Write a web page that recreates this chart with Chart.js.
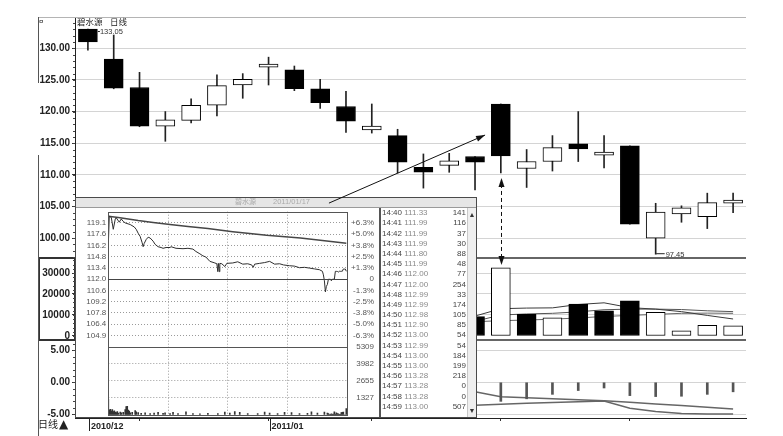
<!DOCTYPE html>
<html>
<head>
<meta charset="utf-8">
<title>碧水源 日线</title>
<script src="https://cdn.jsdelivr.net/npm/chart.js@4.4.1/dist/chart.umd.min.js"></script>
<style>
  body { margin: 0; background: #fff; }
  #wrap { position: relative; width: 783px; height: 436px; overflow: hidden; background: #fff;
          font-family: "Liberation Sans", Arial, sans-serif; }
  canvas { position: absolute; }
  .t { position: absolute; white-space: nowrap; line-height: 1; color: #222; }
  .cjk { font-family: "Noto Sans CJK SC", "Noto Sans", sans-serif; }
  .vl { position: absolute; left: 38px; width: 1px; background: #555; }
  #inset { position: absolute; left: 75px; top: 197px; width: 402px; height: 221px; background: #fff; }
  #insetFrame { position: absolute; left: 0; top: 0; width: 402px; height: 221px; border: 1px solid #4a4a4a; box-sizing: border-box; }
  #insetHead { position: absolute; left: 0; top: 0; width: 402px; height: 11px; background: #e6e6e6;
               border-bottom: 1px solid #9a9a9a; box-sizing: border-box; color: #ababab; }
  #insetHead span { position: absolute; top: 1px; line-height: 1; }
  #intra { left: 0; top: 11px; }
  #tableLine { position: absolute; left: 304px; top: 11px; width: 2px; height: 209px; background: #555; }
  .row { position: absolute; left: 307px; font-size: 8px; line-height: 10px; white-space: nowrap; }
  .row .tm { color: #444; }
  .row .pr { color: #8a8a8a; }
  .vol { position: absolute; left: 340px; width: 51px; text-align: right; font-size: 8px; line-height: 10px; color: #444; }
  #scroll { position: absolute; left: 392px; top: 11px; width: 9px; height: 209px; background: #efefef;
            border-left: 1px solid #c8c8c8; box-sizing: border-box; }
  #scroll span { position: absolute; left: 0; width: 8px; text-align: center; font-size: 7px; line-height: 1; color: #333; }
  #overlay { left: 0; top: 0; pointer-events: none; }
</style>
</head>
<body>
<div id="wrap">
  <canvas id="main" width="783" height="436" style="left:0;top:0"></canvas>

  <div class="vl" style="top:17px;height:66px"></div>
  <div class="vl" style="top:155px;height:281px"></div>
  <div class="t" style="left:39px;top:18px;font-size:8px">¤</div>
  <div class="t cjk" style="left:77px;top:17px;font-size:8.5px">碧水源</div>
  <div class="t cjk" style="left:110px;top:17px;font-size:8.5px">日线</div>
  <div class="t cjk" style="left:38px;top:419px;font-size:10px">日线</div>
  <div class="t" style="left:59px;top:418px;font-size:12px;font-family:'DejaVu Sans'">▲</div>

  <div id="inset">
    <div id="insetHead">
      <span class="cjk" style="left:160px;font-size:7px">碧水源</span>
      <span style="left:198px;font-size:7.5px">2011/01/17</span>
    </div>
    <canvas id="intra" width="299" height="209"></canvas>
    <div id="tableLine"></div>
    <div id="tickRows"></div>
    <div id="scroll"><span style="top:3px">▲</span><span style="bottom:3px">▼</span></div>
    <div id="insetFrame"></div>
  </div>

  <canvas id="overlay" width="783" height="436"></canvas>
</div>

<script>
// daily candles, 碧水源
var days = ['2010/12/23', '2010/12/24', '2010/12/27', '2010/12/28', '2010/12/29', '2010/12/30', '2010/12/31',
  '2011/01/04', '2011/01/05', '2011/01/06', '2011/01/07', '2011/01/10', '2011/01/11', '2011/01/12',
  '2011/01/13', '2011/01/14', '2011/01/17', '2011/01/18', '2011/01/19', '2011/01/20', '2011/01/21',
  '2011/01/24', '2011/01/25', '2011/01/26', '2011/01/27', '2011/01/28'];
var openP  = [133.05, 128.3, 123.8, 117.7, 118.6, 121.0, 124.2, 127.0, 126.6, 123.6, 120.8, 117.1, 116.2,
  111.2, 111.5, 112.9, 121.2, 111.0, 112.1, 114.9, 113.1, 114.6, 100.0, 103.8, 103.4, 105.5];
var highP  = [133.05, 132.1, 126.2, 120.0, 122.0, 125.8, 126.0, 128.6, 127.2, 125.1, 123.2, 121.2, 117.2,
  113.3, 113.4, 112.9, 121.2, 114.0, 116.2, 120.0, 116.2, 114.6, 105.5, 105.1, 107.1, 107.1];
var lowP   = [129.7, 123.6, 117.6, 115.3, 118.2, 119.3, 122.1, 124.2, 123.3, 120.5, 116.7, 116.6, 110.3,
  107.9, 110.4, 107.6, 110.3, 108.0, 110.6, 112.1, 111.1, 102.2, 97.45, 102.5, 101.5, 104.0];
var closeP = [131.0, 123.7, 117.7, 118.7, 121.0, 124.1, 125.1, 127.5, 123.6, 121.4, 118.5, 117.7, 112.0,
  110.4, 112.2, 112.0, 113.0, 112.1, 114.3, 114.1, 113.6, 102.2, 104.1, 104.8, 105.6, 106.0];

// lower panels (only the part right of the popup is readable)
var volume = [null, null, null, null, null, null, null, null, null, null, null, null, null, null, null,
  9200, 32500, 10300, 8700, 15200, 12000, 16700, 11300, 2500, 5100, 4800];
var volMa5 = [null, null, null, null, null, null, null, null, null, null, null, null, null, null, null,
  9500, 13000, 13300, 13400, 15000, 15800, 13500, 12800, 11600, 9800, 8100];
var volMa10 = [null, null, null, null, null, null, null, null, null, null, null, null, null, null, null,
  7000, 10000, 10500, 10800, 11500, 12500, 12800, 12800, 12600, 12000, 11600];
var volMa20 = [null, null, null, null, null, null, null, null, null, null, null, null, null, null, null,
  6800, 7300, 7600, 8000, 8600, 9300, 9800, 10300, 10800, 10900, 10800];
var macdHist = [null, null, null, null, null, null, null, null, null, null, null, null, null, null, null,
  null, -3.0, -2.6, -1.9, -1.3, -0.9, -2.1, -2.25, -2.2, -1.9, -1.5];
var macdDif = [null, null, null, null, null, null, null, null, null, null, null, null, null, null, null,
  -3.6, -3.47, -3.3, -3.2, -3.05, -2.95, -4.1, -4.6, -4.9, -5.0, -5.0];
var macdDea = [null, null, null, null, null, null, null, null, null, null, null, null, null, null, null,
  -1.5, -2.27, -2.42, -2.58, -2.73, -2.89, -3.15, -3.41, -3.67, -3.94, -4.2];

var priceTicks = [100, 105, 110, 115, 120, 125, 130];
var volTicks = [0, 10000, 20000, 30000];
var macdTicks = [-5, 0, 5];
var monthLabels = {0: '2010/12', 7: '2011/01'};
var weekStarts = [2, 7, 11, 16, 21];

// popup: 2011/01/17 minute chart
var minutePrice = [[0, 116.3], [1, 119.95], [3, 119.8], [5, 118.3], [7, 119.6], [8, 119.75], [11, 119.2],
  [13, 119.6], [15, 119.3], [17, 119.1], [22, 118.9], [26, 118.6], [28, 118.3], [30, 117.8], [32, 117.4],
  [34, 116.6], [35, 116.1], [36, 116.5], [38, 117.0], [40, 117.3], [42, 117.2], [45, 116.8], [47, 116.4],
  [50, 116.1], [53, 116.0], [55, 115.9], [58, 116.0], [62, 116.0], [63, 116.1], [68, 115.9], [75, 115.85],
  [80, 115.9], [85, 115.8], [88, 115.5], [92, 115.2], [95, 114.95], [98, 114.8], [102, 114.25], [107, 114.05],
  [109, 113.95], [110, 112.95], [110.5, 114.0], [111.5, 112.95], [112, 114.0], [114, 113.95], [117, 113.6],
  [119, 114.0], [125, 114.05], [130, 114.2], [135, 113.9], [140, 113.95], [144, 113.8], [145.5, 113.5],
  [147, 113.9], [152, 114.0], [157, 114.1], [162, 114.25], [167, 113.9], [172, 113.95], [176, 113.8],
  [182, 113.7], [187, 113.65], [192, 113.45], [197, 113.5], [202, 113.4], [207, 113.3], [212, 113.2],
  [215, 113.0], [216, 112.55], [217, 111.8], [218, 110.4], [219, 111.1]];
var minuteAvg = [[0, 119.95], [10, 119.8], [20, 119.6], [30, 119.4], [45, 119.15], [62, 118.9], [80, 118.65],
  [100, 118.4], [125, 118.0], [159, 117.55], [193, 117.2], [215, 116.9], [239, 116.55]];
var minuteVol = [[0, 1220], [1, 380], [2, 450], [3, 300], [4, 420], [5, 260], [6, 330], [7, 220], [8, 180],
  [9, 260], [10, 150], [12, 230], [13, 160], [15, 200], [17, 420], [18, 650], [19, 680], [20, 380], [21, 300],
  [22, 160], [24, 200], [27, 350], [28, 250], [30, 180], [33, 130], [37, 160], [42, 110], [46, 140], [50, 200],
  [55, 130], [57, 170], [62, 120], [65, 200], [70, 110], [78, 250], [85, 120], [92, 100], [100, 130],
  [110, 120], [117, 230], [122, 140], [127, 260], [132, 200], [140, 120], [150, 110], [157, 230], [162, 140],
  [170, 120], [177, 200], [184, 180], [192, 110], [200, 130], [204, 240], [210, 150], [217, 220]];
var tickTimes = ['14:40', '14:41', '14:42', '14:43', '14:44', '14:45', '14:46', '14:47', '14:48', '14:49',
  '14:50', '14:51', '14:52', '14:53', '14:54', '14:55', '14:56', '14:57', '14:58', '14:59'];
var tickPrices = [111.33, 111.99, 111.99, 111.99, 111.80, 111.99, 112.00, 112.00, 112.99, 112.99,
  112.98, 112.90, 113.00, 112.99, 113.00, 113.00, 113.28, 113.28, 113.28, 113.00];
var tickVols = [141, 116, 37, 30, 88, 48, 77, 254, 33, 174, 105, 85, 54, 54, 184, 199, 218, 0, 0, 507];
var firstTickMinute = 220;

var intraPriceTicks = [104.9, 106.32, 107.74, 109.16, 110.58, 112.0, 113.42, 114.84, 116.26, 117.68, 119.1];
var intraPriceLabels = ['104.9', '106.4', '107.8', '109.2', '110.6', '112.0', '113.4', '114.8', '116.2', '117.6', '119.1'];
var intraPctLabels = ['-6.3%', '-5.0%', '-3.8%', '-2.5%', '-1.3%', '0', '+1.3%', '+2.5%', '+3.8%', '+5.0%', '+6.3%'];
var intraVolTicks = [0, 1327, 2655, 3982, 5309];
var intraVolLabels = ['', '1327', '2655', '3982', '5309'];
var sessionMarks = [0, 60, 120, 180, 240];
var prevClose = 112.0;

// arrows: [category index, value]
var linkFrom = [9.34, 105.53];
var linkTo = [15.39, 116.29];
var dashFrom = [16, 109.5];
var dashTo = [16, 33800];


// tick table
var rowsDiv = document.getElementById('tickRows');
tickTimes.forEach(function (t, i) {
  var top = 11.3 + i * 10.18;
  var r = document.createElement('div');
  r.className = 'row';
  r.style.top = top + 'px';
  r.innerHTML = '<span class="tm">' + t + '</span> <span class="pr">' + tickPrices[i].toFixed(2) + '</span>';
  rowsDiv.appendChild(r);
  var v = document.createElement('div');
  v.className = 'vol';
  v.style.top = top + 'px';
  v.textContent = tickVols[i];
  rowsDiv.appendChild(v);
});

function fixBox(w, h) {
  return function (scale) {
    if (w !== undefined) scale.width = w;
    if (h !== undefined) scale.height = h;
    scale.paddingTop = 0; scale.paddingBottom = 0; scale.paddingLeft = 0; scale.paddingRight = 0;
  };
}
function setTicks(list) {
  return function (scale) { scale.ticks = list.map(function (v) { return {value: v}; }); };
}
function seg(ctx, x1, y1, x2, y2) {
  ctx.beginPath(); ctx.moveTo(x1, y1); ctx.lineTo(x2, y2); ctx.stroke();
}

var clear = 'rgba(0,0,0,0)';
var bodyColors = closeP.map(function (c, i) { return c < openP[i] ? '#000' : '#fff'; });
var volColors = closeP.map(function (c, i) { return i > 0 && c < closeP[i - 1] ? '#000' : '#fff'; });
var axisFont = {family: 'Liberation Sans', size: 10, weight: 'bold'};

var panelDeco = {
  id: 'panelDeco',
  afterDraw: function (chart) {
    var ctx = chart.ctx, a = chart.chartArea, s = chart.scales;
    ctx.save();
    ctx.strokeStyle = '#b4b4b4'; ctx.lineWidth = 1;
    seg(ctx, 38, a.top + 0.5, a.right, a.top + 0.5);

    ctx.strokeStyle = '#333'; ctx.lineWidth = 1.5;
    seg(ctx, 38, s.yV.top, a.right, s.yV.top);
    seg(ctx, 38, s.yM.top, a.right, s.yM.top);
    ctx.lineWidth = 2;
    ctx.strokeRect(39, s.yV.top, a.left - 39, s.yM.top - s.yV.top);

    // minor ticks on the left axis
    ctx.lineWidth = 1; ctx.strokeStyle = '#444';
    [['yP', 1], ['yV', 2000], ['yM', 1]].forEach(function (m) {
      var sc = s[m[0]];
      for (var v = Math.ceil(sc.min / m[1]) * m[1]; v <= sc.max; v += m[1]) {
        var y = Math.round(sc.getPixelForValue(v)) + 0.5;
        seg(ctx, a.left - 2, y, a.left, y);
      }
    });

    // month markers under the axis
    ctx.strokeStyle = '#222';
    Object.keys(monthLabels).forEach(function (i) {
      var x = Math.round(s.x.getPixelForValue(+i)) + 1.5;
      seg(ctx, x, a.bottom, x, a.bottom + 13);
    });

    // highest / lowest price marks
    var hi = 0, lo = 0;
    highP.forEach(function (v, i) { if (v > highP[hi]) hi = i; });
    lowP.forEach(function (v, i) { if (v < lowP[lo]) lo = i; });
    ctx.font = '7.5px "Liberation Sans"';
    ctx.fillStyle = '#333'; ctx.textBaseline = 'middle'; ctx.textAlign = 'left';
    var hx = s.x.getPixelForValue(hi), hy = s.yP.getPixelForValue(highP[hi]);
    seg(ctx, hx + 10, hy + 2.5, hx + 12, hy + 2.5);
    ctx.fillText(highP[hi].toFixed(2), hx + 12, hy + 3);
    var lx = s.x.getPixelForValue(lo), ly = s.yP.getPixelForValue(lowP[lo]);
    seg(ctx, lx + 0.5, ly - 0.5, lx + 9, ly - 0.5);
    ctx.fillText(lowP[lo].toFixed(2), lx + 10, ly + 0.5);
    ctx.restore();
  }
};

var mainChart = new Chart(document.getElementById('main'), {
  type: 'bar',
  data: {
    labels: days,
    datasets: [
      {label: 'body', data: openP.map(function (o, i) { return [o, closeP[i]]; }), yAxisID: 'yP',
        backgroundColor: bodyColors, borderColor: '#000', borderWidth: 1, borderSkipped: false,
        barThickness: 19, grouped: false},
      {label: 'wick', data: lowP.map(function (l, i) { return [l, highP[i]]; }), yAxisID: 'yP',
        backgroundColor: '#222', barThickness: 1, grouped: false},
      {label: 'volume', data: volume, yAxisID: 'yV', backgroundColor: volColors, borderColor: '#000',
        borderWidth: 1, borderSkipped: false, barThickness: 19, grouped: false},
      {type: 'line', label: 'MA5', data: volMa5, yAxisID: 'yV', borderColor: '#3a3a3a', borderWidth: 1, pointRadius: 0},
      {type: 'line', label: 'MA10', data: volMa10, yAxisID: 'yV', borderColor: '#555', borderWidth: 1, pointRadius: 0},
      {type: 'line', label: 'MA20', data: volMa20, yAxisID: 'yV', borderColor: '#666', borderWidth: 1, pointRadius: 0},
      {label: 'MACD', data: macdHist, yAxisID: 'yM', backgroundColor: '#555', barThickness: 2, grouped: false},
      {type: 'line', label: 'DIF', data: macdDif, yAxisID: 'yM', borderColor: '#666', borderWidth: 1.5, pointRadius: 0},
      {type: 'line', label: 'DEA', data: macdDea, yAxisID: 'yM', borderColor: '#666', borderWidth: 1.5, pointRadius: 0}
    ]
  },
  options: {
    animation: false,
    responsive: false,
    devicePixelRatio: 1,
    layout: {padding: {left: 0, right: 37, top: 17, bottom: 0}},
    plugins: {legend: {display: false}, tooltip: {enabled: false}},
    scales: {
      x: {
        type: 'category', offset: true,
        grid: {offset: false, drawOnChartArea: false, tickLength: 3,
          tickColor: function (c) { return weekStarts.indexOf(c.index) >= 0 ? '#333' : clear; }},
        border: {color: '#222'},
        ticks: {autoSkip: false, maxRotation: 0, minRotation: 0, align: 'start', labelOffset: 3, padding: 0,
          color: '#222', font: {family: 'Liberation Sans', size: 9, weight: 'bold'},
          callback: function (v, i) { return monthLabels[i] || ''; }},
        afterFit: fixBox(undefined, 18)
      },
      yM: {
        type: 'linear', position: 'left', stack: 'L', stackWeight: 78, min: -5.62, max: 6.65,
        afterBuildTicks: setTicks(macdTicks),
        ticks: {autoSkip: false, padding: 2, color: '#222', font: axisFont, callback: function (v) { return v.toFixed(2); }},
        grid: {color: '#d4d4d4', tickColor: '#333', tickLength: 3},
        border: {color: '#222'},
        afterFit: fixBox(75)
      },
      yV: {
        type: 'linear', position: 'left', stack: 'L', stackWeight: 82, min: -1905, max: 37143,
        afterBuildTicks: setTicks(volTicks),
        ticks: {autoSkip: false, padding: 2, color: '#222', font: axisFont, callback: function (v) { return String(v); }},
        grid: {color: function (c) { return c.tick && c.tick.value === 0 ? clear : '#d4d4d4'; }, tickColor: '#333', tickLength: 3},
        border: {color: '#222'},
        afterFit: fixBox(75)
      },
      yP: {
        type: 'linear', position: 'left', stack: 'L', stackWeight: 241, min: 96.85, max: 134.95,
        afterBuildTicks: setTicks(priceTicks),
        ticks: {autoSkip: false, padding: 2, color: '#222', font: axisFont, callback: function (v) { return v.toFixed(2); }},
        grid: {color: '#d4d4d4', tickColor: '#333', tickLength: 3},
        border: {color: '#222'},
        afterFit: fixBox(75)
      }
    }
  },
  plugins: [panelDeco]
});

// popup minute chart
var intraFrame = {
  id: 'intraFrame',
  afterDraw: function (chart) {
    var ctx = chart.ctx, a = chart.chartArea, s = chart.scales;
    ctx.save();
    ctx.strokeStyle = '#555'; ctx.lineWidth = 1;
    ctx.strokeRect(Math.round(a.left) + 0.5, Math.round(a.top) + 0.5, Math.round(a.right - a.left), Math.round(a.bottom - a.top));
    var yv = Math.round(s.v.top) + 0.5;
    seg(ctx, a.left, yv, a.right, yv);
    ctx.strokeStyle = '#444';
    var yc = Math.round(s.p.getPixelForValue(prevClose)) + 0.5;
    seg(ctx, a.left, yc, a.right, yc);
    ctx.restore();
  }
};
var smallFont = {family: 'Liberation Sans', size: 8};
var dotted = [1, 2];
var priceSeries = minutePrice.map(function (p) { return {x: p[0], y: p[1]}; })
  .concat(tickPrices.map(function (p, i) { return {x: firstTickMinute + i, y: p}; }));
var volSeries = minuteVol.map(function (p) { return {x: p[0], y: p[1]}; })
  .concat(tickVols.map(function (v, i) { return {x: firstTickMinute + i, y: v}; }));

var intraChart = new Chart(document.getElementById('intra'), {
  type: 'line',
  data: {
    datasets: [
      {label: 'price', data: priceSeries, yAxisID: 'p', borderColor: '#2e2e2e', borderWidth: 1, pointRadius: 0},
      {label: 'avg', data: minuteAvg.map(function (p) { return {x: p[0], y: p[1]}; }), yAxisID: 'p',
        borderColor: '#474747', borderWidth: 1.5, pointRadius: 0},
      {type: 'bar', label: 'vol', data: volSeries, yAxisID: 'v', backgroundColor: '#333', barThickness: 1, grouped: false}
    ]
  },
  options: {
    animation: false,
    responsive: false,
    devicePixelRatio: 1,
    layout: {padding: {top: 3.7, bottom: 2, left: 0, right: 0}},
    plugins: {legend: {display: false}, tooltip: {enabled: false}},
    scales: {
      x: {
        type: 'linear', min: 0, max: 240, offset: false,
        afterBuildTicks: setTicks(sessionMarks),
        ticks: {display: false},
        grid: {offset: false, drawTicks: false,
          color: function (c) { return c.tick && c.tick.value > 0 && c.tick.value < 240 ? '#9a9a9a' : clear; }},
        border: {display: false, dash: dotted},
        afterFit: fixBox(undefined, 0)
      },
      pv: {
        type: 'linear', position: 'left', stack: 'L', stackWeight: 68.3, min: 0, max: 5309,
        ticks: {display: false}, grid: {display: false}, border: {display: false},
        afterFit: fixBox(33.3)
      },
      p: {
        type: 'linear', position: 'left', stack: 'L', stackWeight: 135, min: 103.48, max: 120.52,
        afterBuildTicks: setTicks(intraPriceTicks),
        ticks: {autoSkip: false, padding: 2, color: '#555', font: smallFont,
          callback: function (v, i) { return intraPriceLabels[i]; }},
        grid: {drawTicks: false, color: '#9a9a9a'},
        border: {display: false, dash: dotted},
        afterFit: fixBox(33.3)
      },
      pct: {
        type: 'linear', position: 'right', stack: 'R', stackWeight: 135, min: 103.48, max: 120.52,
        afterBuildTicks: setTicks(intraPriceTicks),
        ticks: {autoSkip: false, crossAlign: 'far', color: '#555', font: smallFont,
          callback: function (v, i) { return intraPctLabels[i]; }},
        grid: {display: false}, border: {display: false},
        afterFit: fixBox(26.7)
      },
      v: {
        type: 'linear', position: 'right', stack: 'R', stackWeight: 68.3, min: 0, max: 5309,
        afterBuildTicks: setTicks(intraVolTicks),
        ticks: {autoSkip: false, crossAlign: 'far', color: '#555', font: smallFont,
          callback: function (v, i) { return intraVolLabels[i]; }},
        grid: {drawTicks: false,
          color: function (c) { return c.tick && c.tick.value > 0 && c.tick.value < 5309 ? '#9a9a9a' : clear; }},
        border: {display: false, dash: dotted},
        afterFit: fixBox(26.7)
      }
    }
  },
  plugins: [intraFrame]
});

// arrows linking the popup, the candle and its volume bar
var ov = document.getElementById('overlay').getContext('2d');
var sx = mainChart.scales.x, syP = mainChart.scales.yP, syV = mainChart.scales.yV;
function arrowHead(ctx, x1, y1, x2, y2) {
  var ang = Math.atan2(y2 - y1, x2 - x1), len = 9, w = 3;
  ctx.beginPath();
  ctx.moveTo(x2, y2);
  ctx.lineTo(x2 - len * Math.cos(ang) + w * Math.sin(ang), y2 - len * Math.sin(ang) - w * Math.cos(ang));
  ctx.lineTo(x2 - len * Math.cos(ang) - w * Math.sin(ang), y2 - len * Math.sin(ang) + w * Math.cos(ang));
  ctx.closePath();
  ctx.fill();
}
ov.strokeStyle = '#111'; ov.fillStyle = '#111'; ov.lineWidth = 1;
var ax1 = sx.getPixelForValue(linkFrom[0]), ay1 = syP.getPixelForValue(linkFrom[1]);
var ax2 = sx.getPixelForValue(linkTo[0]), ay2 = syP.getPixelForValue(linkTo[1]);
seg(ov, ax1, ay1, ax2, ay2);
arrowHead(ov, ax1, ay1, ax2, ay2);

var dx = Math.round(sx.getPixelForValue(dashFrom[0])) + 0.5;
var dy1 = syP.getPixelForValue(dashFrom[1]), dy2 = syV.getPixelForValue(dashTo[1]);
ov.setLineDash([4, 3]);
seg(ov, dx, dy1 + 6, dx, dy2 - 6);
ov.setLineDash([]);
arrowHead(ov, dx, dy1 + 10, dx, dy1);
arrowHead(ov, dx, dy2 - 10, dx, dy2);
</script>
</body>
</html>
